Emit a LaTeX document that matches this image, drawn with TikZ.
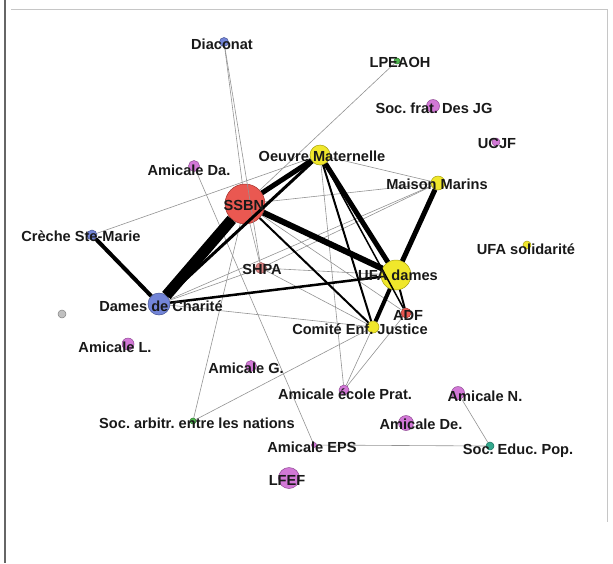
\documentclass[tikz,border=0pt]{standalone}
\usepackage{fontspec}
\setmainfont{Liberation Sans}
\frenchspacing
\begin{document}
\begin{tikzpicture}[x=1pt,y=-1pt,
  vtx/.style={circle,inner sep=0pt,draw=#1!70!black,line width=0.5pt,fill=#1,fill opacity=0.9},
  lbl/.style={font=\fontsize{14.6}{16}\selectfont\bfseries\frenchspacing,text=black!90,inner sep=0pt},
  thin/.style={draw=gray!85,line width=0.6pt},
  tie/.style={draw=black,line width=#1}]
\definecolor{cred}{RGB}{232,70,62}
\definecolor{cyel}{RGB}{238,228,20}
\definecolor{cblue}{RGB}{100,120,212}
\definecolor{cpink}{RGB}{205,105,210}
\definecolor{cgreen}{RGB}{60,175,60}
\definecolor{cteal}{RGB}{30,160,130}
\definecolor{cgray}{RGB}{185,185,185}
\definecolor{cshpa}{RGB}{220,120,120}
\useasboundingbox (0,0) rectangle (613,563);
\draw[draw=black!60,line width=1.5pt] (5,0) -- (5,563);
\draw[draw=gray!45,line width=0.8pt] (11,9) -- (607,9) -- (607,522);
% vertices
\path
 (224,42) coordinate (pdia)
 (397,61) coordinate (plpe)
 (433,106) coordinate (pfrat)
 (496,142) coordinate (pucjf)
 (194,166) coordinate (pada)
 (320,155) coordinate (pom)
 (438,183) coordinate (pmm)
 (245,204) coordinate (pssbn)
 (92,235) coordinate (pcre)
 (527,245) coordinate (pufas)
 (261,268) coordinate (pshpa)
 (396,275) coordinate (pufad)
 (159,304) coordinate (pddc)
 (62,314) coordinate (pgray)
 (406,313) coordinate (padf)
 (373,327) coordinate (pcej)
 (128,344) coordinate (pal)
 (251,366) coordinate (pag)
 (344,390) coordinate (paep)
 (458,393) coordinate (pan)
 (193,421) coordinate (psan)
 (406,423) coordinate (pade)
 (314,445) coordinate (peps)
 (490,446) coordinate (psep)
 (289,478) coordinate (plfef);
\node[vtx=cblue,minimum size=9pt] (dia) at (pdia) {};
\node[vtx=cgreen,minimum size=6pt] (lpe) at (plpe) {};
\node[vtx=cpink,minimum size=13pt] (frat) at (pfrat) {};
\node[vtx=cpink,minimum size=8pt] (ucjf) at (pucjf) {};
\node[vtx=cpink,minimum size=11pt] (ada) at (pada) {};
\node[vtx=cyel,minimum size=20pt] (om) at (pom) {};
\node[vtx=cyel,minimum size=14pt] (mm) at (pmm) {};
\node[vtx=cred,minimum size=40pt] (ssbn) at (pssbn) {};
\node[vtx=cblue,minimum size=10pt] (cre) at (pcre) {};
\node[vtx=cyel,minimum size=8pt] (ufas) at (pufas) {};
\node[vtx=cshpa,minimum size=11pt] (shpa) at (pshpa) {};
\node[vtx=cyel,minimum size=30pt] (ufad) at (pufad) {};
\node[vtx=cblue,minimum size=22pt] (ddc) at (pddc) {};
\node[vtx=cgray,minimum size=8pt] (gray) at (pgray) {};
\node[vtx=cred,minimum size=10pt] (adf) at (padf) {};
\node[vtx=cyel,minimum size=12pt] (cej) at (pcej) {};
\node[vtx=cpink,minimum size=12pt] (al) at (pal) {};
\node[vtx=cpink,minimum size=11pt] (ag) at (pag) {};
\node[vtx=cpink,minimum size=10pt] (aep) at (paep) {};
\node[vtx=cpink,minimum size=13pt] (an) at (pan) {};
\node[vtx=cgreen,minimum size=6pt] (san) at (psan) {};
\node[vtx=cpink,minimum size=15pt] (ade) at (pade) {};
\node[vtx=cpink,minimum size=5pt] (eps) at (peps) {};
\node[vtx=cteal,minimum size=8pt] (sep) at (psep) {};
\node[vtx=cpink,minimum size=21pt] (lfef) at (plfef) {};
% thin ties
\draw[thin] (dia) -- (ssbn);
\draw[thin] (dia) -- (shpa);
\draw[thin] (lpe) -- (ssbn);
\draw[thin] (cre) -- (om);
\draw[thin] (ada) -- (eps);
\draw[thin] (eps) -- (sep);
\draw[thin] (an) -- (sep);
\draw[thin] (san) -- (ssbn);
\draw[thin] (san) -- (cej);
\draw[thin] (aep) -- (cej);
\draw[thin] (aep) -- (adf);
\draw[thin] (aep) -- (om);
\draw[thin] (shpa) -- (ufad);
\draw[thin] (shpa) -- (ssbn);
\draw[thin] (shpa) -- (mm);
\draw[thin] (shpa) -- (cej);
\draw[thin] (ddc) -- (mm);
\draw[thin] (ddc) -- (shpa);
\draw[thin] (ssbn) -- (mm);
\draw[thin] (om) -- (mm);
\draw[thin] (ssbn) -- (adf);
\draw[thin] (ddc) -- (cej);
% strong ties
\draw[tie=11pt] (ssbn) -- (ddc);
\draw[tie=5pt] (ssbn) -- (om);
\draw[tie=6pt] (ssbn) -- (ufad);
\draw[tie=4pt] (cre) -- (ddc);
\draw[tie=5pt] (om) -- (ufad);
\draw[tie=5pt] (mm) -- (ufad);
\draw[tie=3pt] (om) -- (ddc);
\draw[tie=2.5pt] (ddc) -- (ufad);
\draw[tie=2pt] (ssbn) -- (cej);
\draw[tie=2pt] (om) -- (cej);
\draw[tie=1.5pt] (om) -- (adf);
\draw[tie=4pt] (ufad) -- (cej);
\draw[tie=2pt] (ufad) -- (adf);
% labels
\node[lbl] (ldia) at (222,44) {Diaconat};
\node[lbl] (llpe) at (400,62) {LPEAOH};
\node[lbl] (lfrat) at (434,108) {Soc. frat. Des JG};
\node[lbl] (lucjf) at (497,143) {UCJF};
\node[lbl] (lada) at (189,170) {Amicale Da.};
\node[lbl] (lom) at (322,156) {Oeuvre Maternelle};
\node[lbl] (lmm) at (437,184) {Maison Marins};
\node[lbl] (lssbn) at (244,205) {SSBN};
\node[lbl] (lcre) at (81,236) {Crèche Ste-Marie};
\node[lbl] (lufas) at (526,249) {UFA solidarité};
\node[lbl] (lshpa) at (262,269) {SHPA};
\node[lbl] (lufad) at (398,275) {UFA dames};
\node[lbl] (lddc) at (161,306) {Dames de Charité};
\node[lbl] (ladf) at (408,315) {ADF};
\node[lbl] (lcej) at (360,329) {Comité Enf. Justice};
\node[lbl] (lal) at (115,347) {Amicale L.};
\node[lbl] (lag) at (246,368) {Amicale G.};
\node[lbl] (laep) at (345,394) {Amicale école Prat.};
\node[lbl] (lan) at (485,396) {Amicale N.};
\node[lbl] (lsan) at (197,423) {Soc. arbitr. entre les nations};
\node[lbl] (lade) at (421,424) {Amicale De.};
\node[lbl] (leps) at (312,447) {Amicale EPS};
\node[lbl] (lsep) at (518,451) {Soc. Educ. Pop.};
\node[lbl] (llfef) at (287,480) {LFEF};
\end{tikzpicture}
\end{document}
